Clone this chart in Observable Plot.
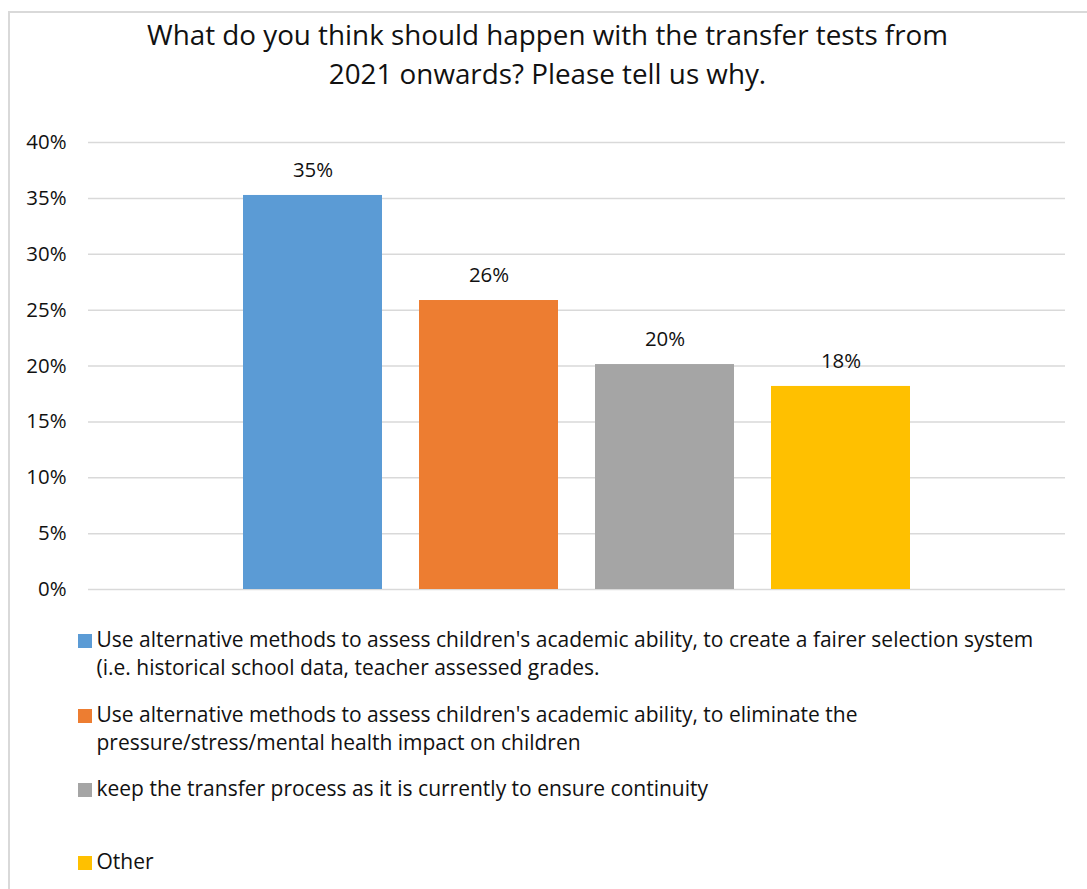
<!DOCTYPE html>
<html>
<head>
<meta charset="utf-8">
<script src="https://cdn.jsdelivr.net/npm/d3@7"></script>
<script src="https://cdn.jsdelivr.net/npm/@observablehq/plot@0.6"></script>
<style>
  html, body { margin: 0; padding: 0; background: #fff; }
  body { width: 1087px; height: 889px; overflow: hidden; position: relative; font-family: "Open Sans", Lato, sans-serif; color: #111; }
  #frame { position: absolute; left: 8px; top: 11px; width: 1100px; height: 900px; border: 2px solid #d9d9d9; box-sizing: border-box; }
  #title { position: absolute; left: 8px; right: 0; top: 14.7px; text-align: center; font-size: 27.8px; line-height: 39px; }
  #chart { position: absolute; left: 0; top: 110px; }
  #legend { position: absolute; left: 0; top: 0; }
  .item { position: absolute; left: 78px; width: 1000px; font-size: 21px; line-height: 28.5px; white-space: nowrap; }
  .sw { display: inline-block; width: 13.5px; height: 13.5px; margin-right: 5px; vertical-align: -1px; }
</style>
</head>
<body>
<div id="frame"></div>
<div id="title">What do you think should happen with the transfer tests from<br>2021 onwards? Please tell us why.</div>
<div id="chart"></div>
<div id="legend"></div>
<script>
// ---- data ----
const categories = [
  "Use alternative methods to assess children's academic ability, to create a fairer selection system (i.e. historical school data, teacher assessed grades.",
  "Use alternative methods to assess children's academic ability, to eliminate the pressure/stress/mental health impact on children",
  "keep the transfer process as it is currently to ensure continuity",
  "Other"
];
const legendLines = [
  ["Use alternative methods to assess children's academic ability, to create a fairer selection system", "(i.e. historical school data, teacher assessed grades."],
  ["Use alternative methods to assess children's academic ability, to eliminate the", "pressure/stress/mental health impact on children"],
  ["keep the transfer process as it is currently to ensure continuity"],
  ["Other"]
];
const values = [0.3526, 0.2586, 0.2013, 0.1817];
const yTicks = [0, 0.05, 0.10, 0.15, 0.20, 0.25, 0.30, 0.35, 0.40];

// ---- options ----
const palette = ["#5B9BD5", "#ED7D31", "#A5A5A5", "#FFC000"];
const data = categories.map((c, i) => ({category: c, value: values[i]}));
const pct = d3.format(".0%");

const chart = Plot.plot({
  width: 1087,
  height: 500,
  marginLeft: 88,
  marginRight: 22,
  marginTop: 32,
  marginBottom: 21,
  style: {fontFamily: "'Open Sans', Lato, sans-serif", fontSize: "20.4px", color: "#111", background: "transparent"},
  x: {domain: categories, paddingInner: 0.211, paddingOuter: 0.87, axis: null},
  y: {domain: [0, 0.40], label: null},
  color: {domain: categories, range: palette},
  marks: [
    Plot.ruleY(yTicks, {stroke: "#d9d9d9", strokeWidth: 1.5}),
    Plot.barY(data, {x: "category", y: "value", fill: "category"}),
    Plot.text(data, {x: "category", y: "value", text: d => pct(d.value), dy: -25, fontSize: 20.4, fill: "#111"}),
    Plot.axisY({ticks: yTicks, tickFormat: pct, tickSize: 0, tickPadding: 22, fontSize: 20.4, fill: "#111", label: null})
  ]
});
document.getElementById("chart").appendChild(chart);

// ---- legend ----
const legend = document.getElementById("legend");
const tops = [624.6, 699.6, 773.6, 846.6];
categories.forEach((c, i) => {
  const item = document.createElement("div");
  item.className = "item";
  item.style.top = tops[i] + "px";
  const sw = document.createElement("span");
  sw.className = "sw";
  sw.style.background = palette[i];
  item.appendChild(sw);
  legendLines[i].forEach((line, j) => {
    if (j > 0) {
      item.appendChild(document.createElement("br"));
      const pad = document.createElement("span");
      pad.style.display = "inline-block";
      pad.style.width = "18.5px";
      item.appendChild(pad);
    }
    const t = document.createElement("span");
    t.textContent = line;
    item.appendChild(t);
  });
  legend.appendChild(item);
});
</script>
</body>
</html>
